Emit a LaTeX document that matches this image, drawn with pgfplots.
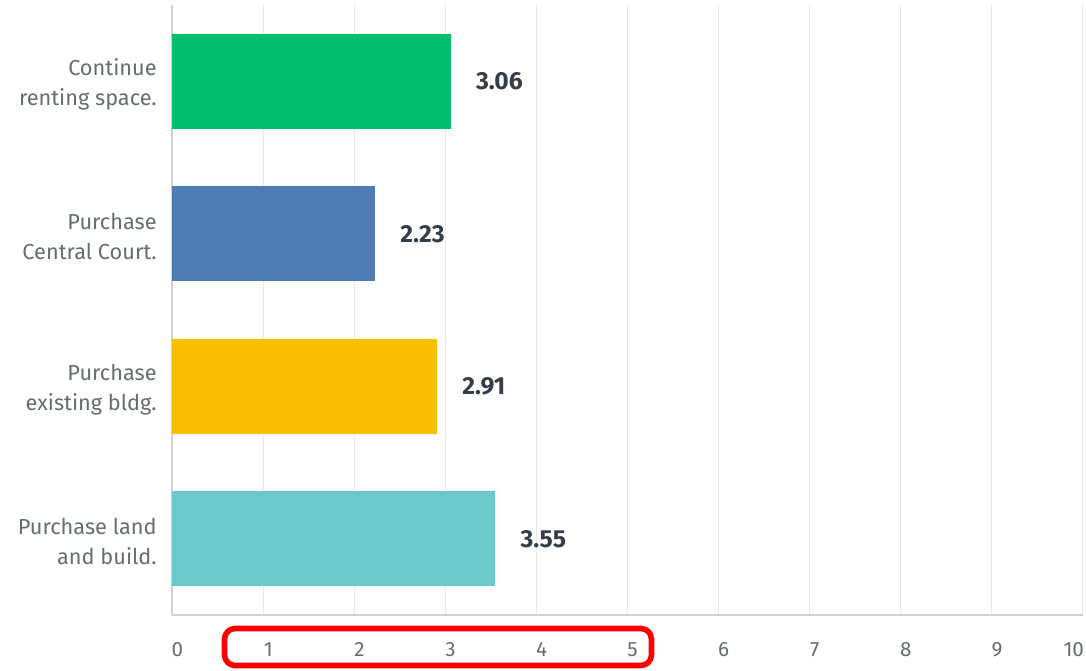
\documentclass[border=0pt]{standalone}
\usepackage{pgfplots}
\pgfplotsset{compat=1.18}
\usepackage{fontspec}
\setmainfont{Fira Sans}
\definecolor{cgreen}{HTML}{00BF6F}
\definecolor{cblue}{HTML}{507CB6}
\definecolor{cyellow}{HTML}{F9BE00}
\definecolor{cteal}{HTML}{6BC8CD}
\definecolor{ticktext}{HTML}{666D72}
\definecolor{valtext}{HTML}{333E48}
\definecolor{gridc}{HTML}{E8E8E8}
\definecolor{axisc}{HTML}{D0D0D0}
\begin{document}
\begin{tikzpicture}
\begin{axis}[
  scale only axis,
  width=683pt, height=457.5pt,
  xmin=0, xmax=10, ymin=-0.5, ymax=3.5,
  y dir=reverse,
  xbar, bar width=0.62, bar shift=0pt,
  axis x line*=bottom, axis y line*=left,
  axis line style={axisc, line width=1pt},
  xtick={0,1,...,10},
  xticklabels={0,1,2,3,4,5,6,7,8,9,{\makebox[0pt][r]{10\kern3pt}}},
  ytick={0,1,2,3},
  yticklabels={{Continue\\renting space.},{Purchase\\Central Court.},{Purchase\\existing bldg.},{Purchase land\\and build.}},
  yticklabel style={align=right, font=\fontsize{16.3}{22.5}\selectfont, text=ticktext, xshift=-8pt, yshift=-2.2pt},
  xticklabel style={font=\fontsize{15.5}{17}\selectfont, text=ticktext, yshift=-17pt, xshift=4pt},
  /pgf/number format/assume math mode=true,
  major tick length=0pt,
  xmajorgrids, major grid style={gridc, line width=0.8pt},
  nodes near coords,
  nodes near coords style={font=\bfseries\fontsize{18.5}{20}\selectfont, text=valtext, anchor=west, xshift=15.5pt,
    /pgf/number format/.cd, fixed, fixed zerofill, precision=2, assume math mode=true},
  every axis plot/.append style={draw=none},
]
\addplot[fill=cgreen] coordinates {(3.06,0)};
\addplot[fill=cblue] coordinates {(2.23,1)};
\addplot[fill=cyellow] coordinates {(2.91,2)};
\addplot[fill=cteal] coordinates {(3.55,3)};
\end{axis}
\draw[red, line width=4.2pt, rounded corners=8pt]
  ([xshift=39.4pt, yshift=-10.1pt]current axis.south west) rectangle
  ([xshift=359.6pt, yshift=-37.9pt]current axis.south west);
\pgfresetboundingbox
\path ([xshift=-129pt, yshift=-42pt]current axis.south west) rectangle
      ([xshift=2.5pt, yshift=3.75pt]current axis.north east);
\end{tikzpicture}
\end{document}
